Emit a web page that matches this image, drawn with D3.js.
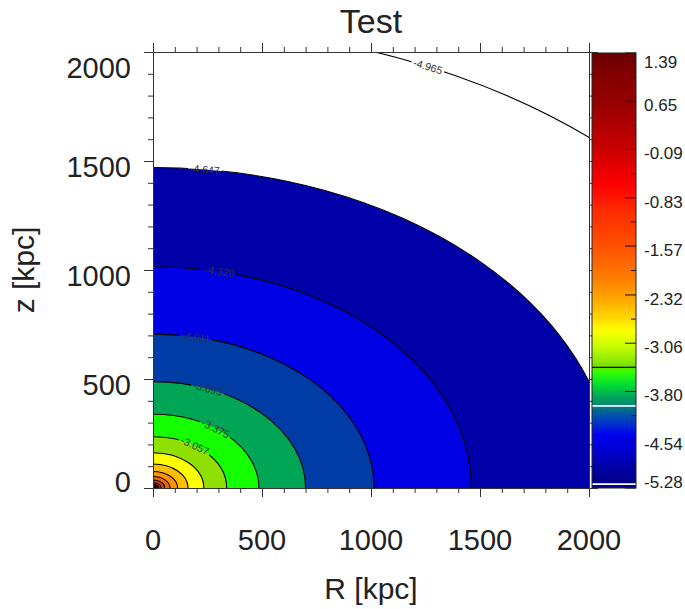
<!DOCTYPE html>
<html>
<head>
<meta charset="utf-8">
<script src="https://cdn.jsdelivr.net/npm/d3@7"></script>
<style>
  body { margin: 0; background: #fff; }
  text { font-family: "Liberation Sans", Arial, Helvetica, sans-serif; }
</style>
</head>
<body>
<div id="chart"></div>
<script>
// contour levels (log density) with the semi axes, in kpc
const levels = [-4.965, -4.647, -4.329, -4.011, -3.693, -3.375, -3.057, -2.739, -2.421, -2.103, -1.785, -1.467, -1.149, -0.831, -0.513, -0.195];
const radiusR = [3070, 2120, 1460, 1014, 700, 486, 338, 233, 161, 113, 78, 54, 37, 26, 18, 12];
const radiusZ = [2120, 1470, 1015, 706, 488, 338, 235, 162, 110, 76, 53, 37, 25, 17, 12, 8];
const bandColors = ['#ffffff', '#0000a8', '#0000e4', '#003ca6', '#00a655', '#14ff00', '#8fe000', '#ffff00',
                    '#ffbe00', '#ff9000', '#ee6a00', '#dd4000', '#cc2000', '#b80000', '#a00000', '#880000'];

// which contours carry a label, and at which R the label sits
const labelLevels = [0, 1, 2, 3, 4, 5, 6];
const labelR = [1261, 238, 306, 196, 251, 287, 192];

// axes
const xMajor = [0, 500, 1000, 1500, 2000];
const yMajor = [0, 500, 1000, 1500, 2000];

// colour bar
const cbTicks = [1.39, 0.65, -0.09, -0.83, -1.57, -2.32, -3.06, -3.80, -4.54, -5.28];
const cbStopValues = [1.39, 1.13, 0.59, -0.10, -0.63, -1.02, -1.63, -2.09, -2.40, -2.70, -2.86, -3.09, -3.35, -3.43, -3.50, -3.70, -3.90, -4.02, -4.08, -4.24, -4.47, -4.77, -5.00, -5.19, -5.28];
const cbStopColors = ['#660000', '#800000', '#990000', '#cc0000', '#ff0000', '#ff2a00', '#ff5500', '#ff8000', '#ffaa00', '#ffdd00', '#ffff00', '#ccff00', '#88e600', '#66e600', '#33ff00', '#00dd33', '#00a060', '#008878', '#006a90', '#0040c0', '#0000f0', '#0000c8', '#0000a0', '#00008a', '#000088'];
const cbWhiteLines = [-4.02, -5.22];
const cbBlackLines = [-3.43];

const margin = {top: 52, left: 153},
    width = 436,
    height = 436;

const svg = d3.select('#chart').append('svg')
    .attr('width', 685)
    .attr('height', 609);

const x = d3.scaleLinear().domain([0, 2000]).range([0, width]);
const y = d3.scaleLinear().domain([0, 2000]).range([height, 0]);

const graph = svg.append('g')
    .attr('transform', `translate(${margin.left}, ${margin.top})`);

const defs = svg.append('defs');
defs.append('clipPath').attr('id', 'plot')
  .append('rect').attr('width', width).attr('height', height);

// filled bands: biggest ellipse first
graph.append('g').attr('clip-path', 'url(#plot)')
  .selectAll('ellipse')
  .data(levels)
  .enter()
  .append('ellipse')
    .attr('cx', x(0))
    .attr('cy', y(0))
    .attr('rx', (d, i) => x(radiusR[i]) - x(0))
    .attr('ry', (d, i) => y(0) - y(radiusZ[i]))
    .attr('fill', (d, i) => bandColors[i]);

// label positions along each ellipse
const labelData = labelLevels.map((k, i) => {
  const a = radiusR[k], b = radiusZ[k], r0 = labelR[i];
  const z0 = b * Math.sqrt(1 - (r0 / a) ** 2);
  const ang = Math.atan((b * b * r0) / (a * a * z0)) * 180 / Math.PI;
  return {text: levels[k].toFixed(3), px: x(r0), py: y(z0), ang};
});

// mask that cuts the lines where labels go
const mask = defs.append('mask').attr('id', 'gaps')
    .attr('maskUnits', 'userSpaceOnUse')
    .attr('x', -20).attr('y', -20).attr('width', width + 40).attr('height', height + 40);
mask.append('rect')
    .attr('x', -20).attr('y', -20).attr('width', width + 40).attr('height', height + 40)
    .attr('fill', '#fff');

graph.append('g').attr('clip-path', 'url(#plot)')
  .append('g').attr('mask', 'url(#gaps)')
  .selectAll('ellipse')
  .data(levels)
  .enter()
  .append('ellipse')
    .attr('cx', x(0))
    .attr('cy', y(0))
    .attr('rx', (d, i) => x(radiusR[i]) - x(0))
    .attr('ry', (d, i) => y(0) - y(radiusZ[i]))
    .attr('fill', 'none')
    .attr('stroke', '#000')
    .attr('stroke-width', 1.1);

const labels = graph.append('g').selectAll('text')
  .data(labelData)
  .enter()
  .append('text')
    .attr('transform', d => `translate(${d.px},${d.py}) rotate(${d.ang})`)
    .attr('text-anchor', 'middle')
    .attr('dy', '0.35em')
    .attr('font-size', 10.5)
    .attr('fill', '#333')
    .text(d => d.text);

labels.each(function(d) {
  const w = this.getComputedTextLength() + 4;
  mask.append('rect')
      .attr('transform', `translate(${d.px},${d.py}) rotate(${d.ang})`)
      .attr('x', -w / 2).attr('y', -5).attr('width', w).attr('height', 10)
      .attr('fill', '#000');
});

// axes: major and minor ticks drawn outward
const minor = d3.range(0, 2001, 100).filter(v => !xMajor.includes(v));
function ticks(axisFn, scale, pos) {
  const g = graph.append('g').attr('transform', pos);
  g.call(axisFn(scale).tickValues(minor).tickSize(5).tickFormat(''));
  g.call(sel => sel.append('g').call(axisFn(scale).tickValues(xMajor).tickSize(9).tickFormat('')));
  g.selectAll('path, line').attr('stroke', '#333');
  return g;
}
ticks(d3.axisBottom, x, `translate(0,${height})`);
ticks(d3.axisTop, x, 'translate(0,0)');
ticks(d3.axisLeft, y, 'translate(0,0)');
ticks(d3.axisRight, y, `translate(${width},0)`);

graph.append('g').selectAll('text')
  .data(xMajor)
  .enter()
  .append('text')
    .attr('x', d => x(d))
    .attr('y', height + 62)
    .attr('text-anchor', 'middle')
    .attr('font-size', 29)
    .attr('fill', '#222')
    .text(d => d);

graph.append('g').selectAll('text')
  .data(yMajor)
  .enter()
  .append('text')
    .attr('x', -22)
    .attr('y', d => Math.max(16, Math.min(430, y(d) + 6)))
    .attr('dy', '0.35em')
    .attr('text-anchor', 'end')
    .attr('font-size', 29)
    .attr('fill', '#222')
    .text(d => d);

svg.append('text')
    .attr('x', margin.left + width / 2).attr('y', 33)
    .attr('text-anchor', 'middle')
    .attr('font-size', 34)
    .attr('fill', '#222')
    .text('Test');

svg.append('text')
    .attr('x', margin.left + width / 2).attr('y', 599)
    .attr('text-anchor', 'middle')
    .attr('font-size', 30)
    .attr('fill', '#222')
    .text('R [kpc]');

svg.append('text')
    .attr('transform', `translate(34, ${margin.top + height / 2}) rotate(-90)`)
    .attr('text-anchor', 'middle')
    .attr('font-size', 30)
    .attr('fill', '#222')
    .text('z [kpc]');

// colour bar
const cbX0 = 592, cbX1 = 636;
const cbY = d3.scaleLinear().domain([-5.28, 1.39]).range([488, 53]);
const grad = defs.append('linearGradient').attr('id', 'cbgrad')
    .attr('x1', 0).attr('y1', 0).attr('x2', 0).attr('y2', 1);
grad.selectAll('stop')
  .data(cbStopValues)
  .enter()
  .append('stop')
    .attr('offset', d => (cbY(d) - cbY(1.39)) / (cbY(-5.28) - cbY(1.39)))
    .attr('stop-color', (d, i) => cbStopColors[i]);

const cb = svg.append('g');
cb.append('rect')
    .attr('x', cbX0).attr('y', cbY(1.39))
    .attr('width', cbX1 - cbX0).attr('height', cbY(-5.28) - cbY(1.39))
    .attr('fill', 'url(#cbgrad)');

cb.selectAll('.wl')
  .data(cbWhiteLines)
  .enter()
  .append('line')
    .attr('x1', cbX0).attr('x2', cbX1)
    .attr('y1', d => cbY(d)).attr('y2', d => cbY(d))
    .attr('stroke', '#fff').attr('stroke-width', 1.6);

cb.selectAll('.bl')
  .data(cbBlackLines)
  .enter()
  .append('line')
    .attr('x1', cbX0).attr('x2', cbX1)
    .attr('y1', d => cbY(d)).attr('y2', d => cbY(d))
    .attr('stroke', '#000').attr('stroke-width', 1.4);

// major ticks at labels, minor halfway between
const cbMinor = cbTicks.slice(1).map((v, i) => (v + cbTicks[i]) / 2);
cb.selectAll('.mj')
  .data(cbTicks)
  .enter()
  .append('line')
    .attr('x1', cbX1 - 11).attr('x2', cbX1)
    .attr('y1', d => cbY(d)).attr('y2', d => cbY(d))
    .attr('stroke', '#111');
cb.selectAll('.mn')
  .data(cbMinor)
  .enter()
  .append('line')
    .attr('x1', cbX1 - 5).attr('x2', cbX1)
    .attr('y1', d => cbY(d)).attr('y2', d => cbY(d))
    .attr('stroke', '#111');

cb.append('rect')
    .attr('x', cbX0).attr('y', cbY(1.39))
    .attr('width', cbX1 - cbX0).attr('height', cbY(-5.28) - cbY(1.39))
    .attr('fill', 'none').attr('stroke', '#222');

cb.selectAll('.lab')
  .data(cbTicks)
  .enter()
  .append('text')
    .attr('x', 644)
    .attr('y', d => Math.max(62, Math.min(482, cbY(d) + 4)))
    .attr('dy', '0.35em')
    .attr('font-size', 17)
    .attr('fill', '#222')
    .text(d => d.toFixed(2));
</script>
</body>
</html>
